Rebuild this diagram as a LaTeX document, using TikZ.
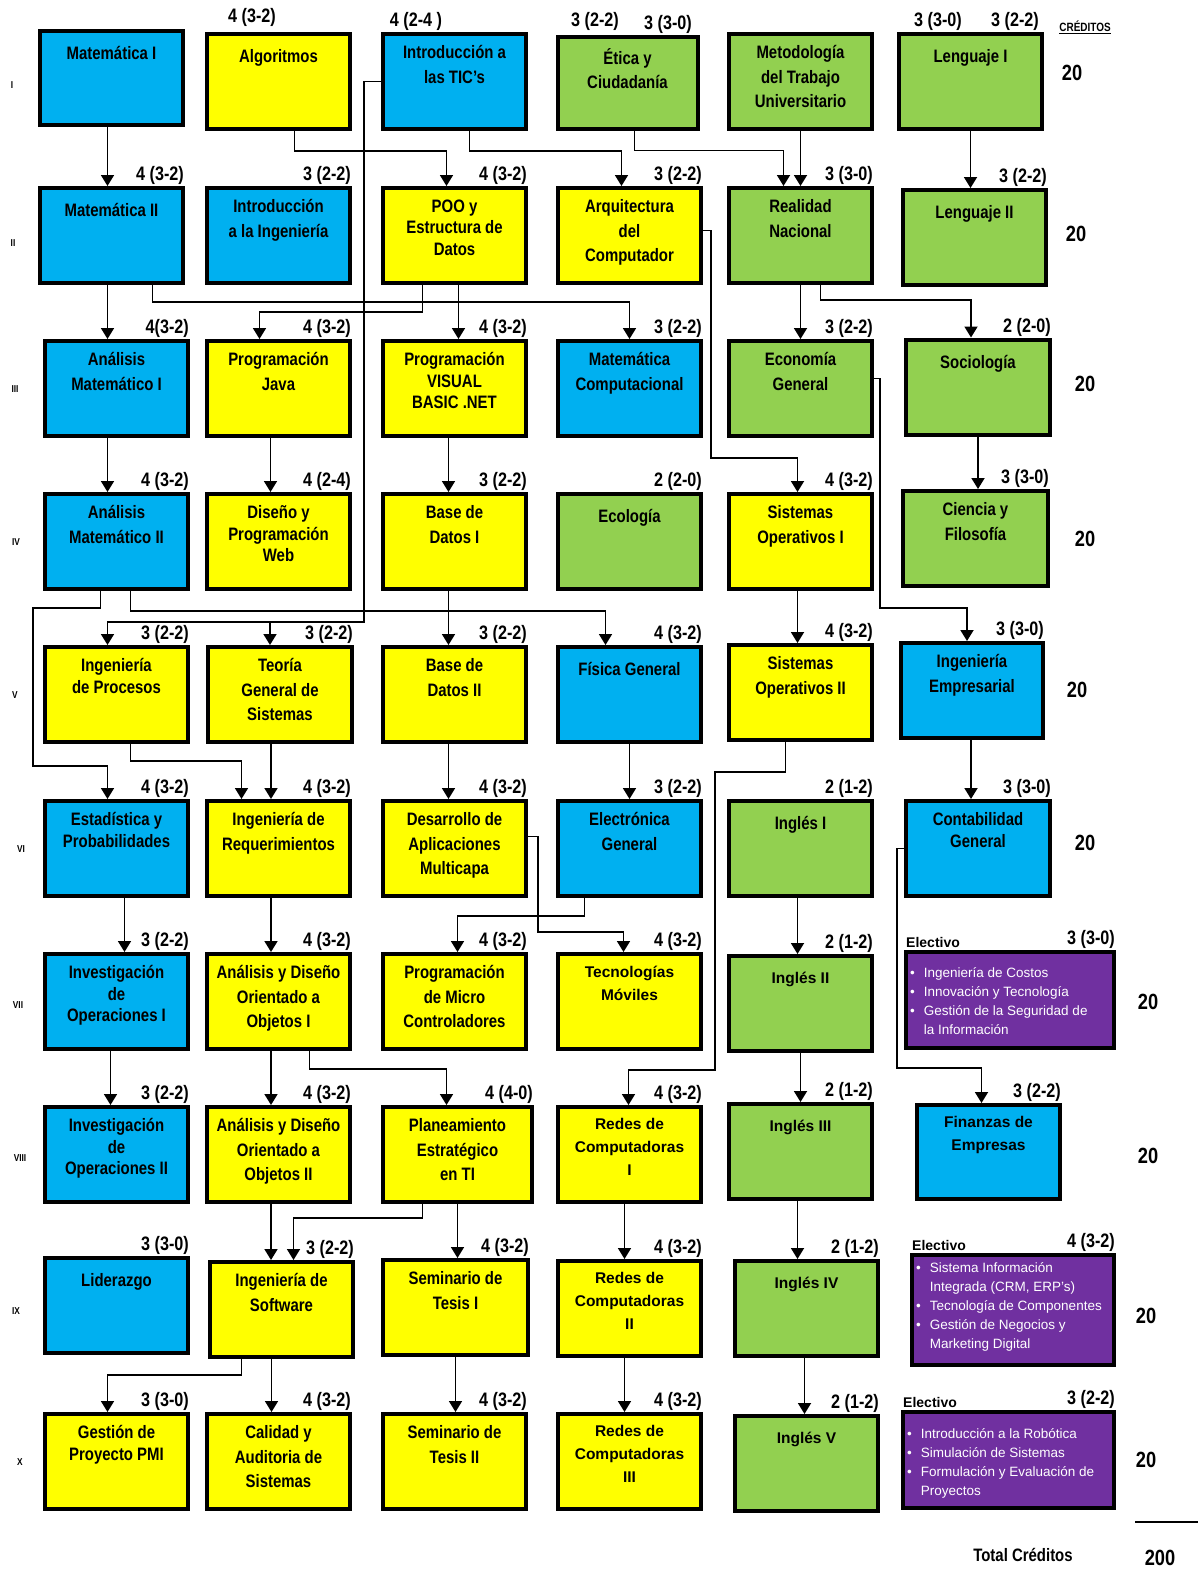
\documentclass[tikz,border=0pt]{standalone}
\usepackage{fontspec}
\setmainfont{Liberation Sans}
\newfontfamily\narrowsans[FakeStretch=0.83]{Liberation Sans}
\usetikzlibrary{arrows.meta}

\definecolor{azul}{HTML}{00B0F0}
\definecolor{amarillo}{HTML}{FFFF00}
\definecolor{verde}{HTML}{92D050}
\definecolor{morado}{HTML}{7030A0}

\tikzset{
	course/.style={draw, line width=4pt, fill=#1, minimum width=143pt, minimum height=95pt, inner sep=0pt},
	subjtext/.style={anchor=north, label distance=-13.5pt, align=center, inner sep=0pt,
		font=\narrowsans\bfseries\fontsize{18}{24.5}\selectfont, execute at begin node=\strut},
	subj/.style={label={[subjtext]90:{#1}}},
	subjt/.style={label={[subjtext, font=\narrowsans\bfseries\fontsize{18}{21.5}\selectfont]90:{#1}}},
	subjw/.style={label={[subjtext, font=\bfseries\fontsize{15.5}{23}\selectfont]90:{#1}}},
	credit/.style={anchor=south east, label distance=0pt, inner sep=1pt, font=\narrowsans\bfseries\fontsize{19.5}{22}\selectfont},
	cr/.style={label={[credit]north east:{#1}}},
	credittop/.style={inner sep=0pt, font=\narrowsans\bfseries\fontsize{19.5}{22}\selectfont},
	electivo/.style={inner sep=2pt, font=\bfseries\fontsize{14}{16}\selectfont},
	bullets/.style={inner sep=0pt, text=white, align=left, font=\fontsize{13.5}{19}\selectfont},
	sem/.style={inner sep=0pt, font=\narrowsans\bfseries\fontsize{10}{12}\selectfont},
	total/.style={inner sep=0pt, font=\narrowsans\bfseries\fontsize{22}{24}\selectfont},
	link/.style={line width=1.8pt, -{Triangle[width=13pt,length=11pt]}}
}

\begin{document}
\begin{tikzpicture}[x=1pt, y=-1pt]
	\useasboundingbox (0,0) rectangle (1198,1590);

	% semestre I
	\node[course=azul, subj={Matemática I}, minimum height=94pt] (mat1) at (111.5,78) {};
	\node[course=amarillo, subj={Algoritmos}] (algo) at (278.5,81.5) {};
	\node[course=azul, subj={Introducción a\\las TIC’s}] (tic) at (454.5,81.5) {};
	\node[course=verde, subj={Ética y\\Ciudadanía}, minimum width=140pt, minimum height=92pt] (etica) at (627.5,82.5) {};
	\node[course=verde, subj={Metodología\\del Trabajo\\Universitario}] (metod) at (800.5,81.5) {};
	\node[course=verde, subj={Lenguaje I}] (leng1) at (970.5,81.5) {};

	\node[credittop] (algocr) at (252,17) {4 (3-2)};
	\node[credittop] (ticcr) at (416,21) {4 (2-4 )};
	\node[credittop] (eticacr) at (595,21) {3 (2-2)};
	\node[credittop] (metodcr) at (668,24) {3 (3-0)};
	\node[credittop] (leng1cra) at (938,21) {3 (3-0)};
	\node[credittop] (leng1crb) at (1015,21) {3 (2-2)};
	\node[inner sep=0pt, font=\narrowsans\bfseries\fontsize{12}{14}\selectfont] (creditos) at (1085,27) {\underline{CRÉDITOS}};

	% semestre II
	\node[course=azul, subj={Matemática II}, cr={4 (3-2)}] (mat2) at (111.5,235.5) {};
	\node[course=azul, subj={Introducción\\a la Ingeniería}, cr={3 (2-2)}] (iing) at (278.5,235.5) {};
	\node[course=amarillo, subjt={POO y\\Estructura de\\Datos}, cr={4 (3-2)}] (poo) at (454.5,235.5) {};
	\node[course=amarillo, subj={Arquitectura\\del\\Computador}, cr={3 (2-2)}] (arq) at (629.5,235.5) {};
	\node[course=verde, subj={Realidad\\Nacional}, cr={3 (3-0)}] (realidad) at (800.5,235.5) {};
	\node[course=verde, subj={Lenguaje II}, cr={3 (2-2)}] (leng2) at (974.5,237.5) {};

	% semestre III
	\node[course=azul, subj={Análisis\\Matemático I}, cr={4(3-2)}] (am1) at (116.5,388.5) {};
	\node[course=amarillo, subj={Programación\\Java}, cr={4 (3-2)}] (java) at (278.5,388.5) {};
	\node[course=amarillo, subjt={Programación\\VISUAL\\BASIC .NET}, cr={4 (3-2)}] (vb) at (454.5,388.5) {};
	\node[course=azul, subj={Matemática\\Computacional}, cr={3 (2-2)}] (matc) at (629.5,388.5) {};
	\node[course=verde, subj={Economía\\General}, cr={3 (2-2)}] (eco) at (800.5,388.5) {};
	\node[course=verde, subj={Sociología}, cr={2 (2-0)}, minimum width=144pt] (soc) at (978,387) {};

	% semestre IV
	\node[course=azul, subj={Análisis\\Matemático II}, cr={4 (3-2)}] (am2) at (116.5,541.5) {};
	\node[course=amarillo, subjt={Diseño y\\Programación\\Web}, cr={4 (2-4)}] (web) at (278.5,541.5) {};
	\node[course=amarillo, subj={Base de\\Datos I}, cr={3 (2-2)}] (bd1) at (454.5,541.5) {};
	\node[course=verde, subj={Ecología}, cr={2 (2-0)}] (ecol) at (629.5,541.5) {};
	\node[course=amarillo, subj={Sistemas\\Operativos I}, cr={4 (3-2)}] (so1) at (800.5,541.5) {};
	\node[course=verde, subj={Ciencia y\\Filosofía}, cr={3 (3-0)}, minimum width=145pt] (cf) at (975.5,538.5) {};

	% semestre V
	\node[course=amarillo, subjt={Ingeniería\\de Procesos}, cr={3 (2-2)}] (iproc) at (116.5,694.5) {};
	\node[course=amarillo, subj={Teoría\\General de\\Sistemas}, cr={3 (2-2)}, minimum width=144pt] (tgs) at (280,694.5) {};
	\node[course=amarillo, subj={Base de\\Datos II}, cr={3 (2-2)}] (bd2) at (454.5,694.5) {};
	\node[course=azul, subj={Física General}, cr={4 (3-2)}] (fis) at (629.5,694.5) {};
	\node[course=amarillo, subj={Sistemas\\Operativos II}, cr={4 (3-2)}] (so2) at (800.5,692.5) {};
	\node[course=azul, subj={Ingeniería\\Empresarial}, cr={3 (3-0)}, minimum width=142pt] (iemp) at (972,690.5) {};

	% semestre VI
	\node[course=azul, subjt={Estadística y\\Probabilidades}, cr={4 (3-2)}] (est) at (116.5,848.5) {};
	\node[course=amarillo, subj={Ingeniería de\\Requerimientos}, cr={4 (3-2)}] (ireq) at (278.5,848.5) {};
	\node[course=amarillo, subj={Desarrollo de\\Aplicaciones\\Multicapa}, cr={4 (3-2)}] (dam) at (454.5,848.5) {};
	\node[course=azul, subj={Electrónica\\General}, cr={3 (2-2)}] (elec) at (629.5,848.5) {};
	\node[course=verde, subj={Inglés I}, cr={2 (1-2)}] (ing1) at (800.5,848.5) {};
	\node[course=azul, subjt={Contabilidad\\General}, cr={3 (3-0)}, minimum width=144pt] (cont) at (978,848.5) {};

	% semestre VII
	\node[course=azul, subjt={Investigación\\de\\Operaciones I}, cr={3 (2-2)}] (io1) at (116.5,1001.5) {};
	\node[course=amarillo, subj={Análisis y Diseño\\Orientado a\\Objetos I}, cr={4 (3-2)}] (adoo1) at (278.5,1001.5) {};
	\node[course=amarillo, subj={Programación\\de Micro\\Controladores}, cr={4 (3-2)}] (micro) at (454.5,1001.5) {};
	\node[course=amarillo, subjw={Tecnologías\\Móviles}, cr={4 (3-2)}] (movil) at (629.5,1001.5) {};
	\node[course=verde, subjw={Inglés II}, cr={2 (1-2)}] (ing2) at (800.5,1003.5) {};
	\node[course=morado, cr={3 (3-0)}, minimum width=208pt, minimum height=96pt] (elec1) at (1010,1000) {};
	\node[electivo, anchor=south west] (elec1h) at (elec1.north west) {Electivo};
	\node[bullets, anchor=north west] (elec1l) at ([xshift=6pt,yshift=-13.7pt]elec1.north west)
		{\begin{tabular}{@{}l@{\hspace{9pt}}l@{}}
			\textbullet & Ingeniería de Costos\\
			\textbullet & Innovación y Tecnología\\
			\textbullet & Gestión de la Seguridad de\\
			& la Información
		\end{tabular}};

	% semestre VIII
	\node[course=azul, subjt={Investigación\\de\\Operaciones II}, cr={3 (2-2)}] (io2) at (116.5,1154.5) {};
	\node[course=amarillo, subj={Análisis y Diseño\\Orientado a\\Objetos II}, cr={4 (3-2)}] (adoo2) at (278.5,1154.5) {};
	\node[course=amarillo, subj={Planeamiento\\Estratégico\\en TI}, cr={4 (4-0)}, minimum width=149pt] (plan) at (457.5,1154.5) {};
	\node[course=amarillo, subjw={Redes de\\Computadoras\\I}, cr={4 (3-2)}] (redes1) at (629.5,1154.5) {};
	\node[course=verde, subjw={Inglés III}, cr={2 (1-2)}] (ing3) at (800.5,1151.5) {};
	\node[course=azul, subjw={Finanzas de\\Empresas}, cr={3 (2-2)}, minimum height=94pt] (fin) at (988.5,1152) {};

	% semestre IX
	\node[course=azul, subj={Liderazgo}, cr={3 (3-0)}] (lid) at (116.5,1305.5) {};
	\node[course=amarillo, subj={Ingeniería de\\Software}, cr={3 (2-2)}] (isw) at (281.5,1309.5) {};
	\node[course=amarillo, subj={Seminario de\\Tesis I}, cr={4 (3-2)}, minimum width=145pt] (st1) at (455.5,1307.5) {};
	\node[course=amarillo, subjw={Redes de\\Computadoras\\II}, cr={4 (3-2)}] (redes2) at (629.5,1308.5) {};
	\node[course=verde, subjw={Inglés IV}, cr={2 (1-2)}] (ing4) at (806.5,1308.5) {};
	\node[course=morado, cr={4 (3-2)}, minimum width=202pt, minimum height=110pt] (elec2) at (1013,1310) {};
	\node[electivo, anchor=south west] (elec2h) at (elec2.north west) {Electivo};
	\node[bullets, anchor=north west] (elec2l) at ([xshift=6pt,yshift=-5.7pt]elec2.north west)
		{\begin{tabular}{@{}l@{\hspace{9pt}}l@{}}
			\textbullet & Sistema Información\\
			& Integrada (CRM, ERP’s)\\
			\textbullet & Tecnología de Componentes\\
			\textbullet & Gestión de Negocios y\\
			& Marketing Digital
		\end{tabular}};

	% semestre X
	\node[course=amarillo, subjt={Gestión de\\Proyecto PMI}, cr={3 (3-0)}] (pmi) at (116.5,1461.5) {};
	\node[course=amarillo, subj={Calidad y\\Auditoria de\\Sistemas}, cr={4 (3-2)}] (cal) at (278.5,1461.5) {};
	\node[course=amarillo, subj={Seminario de\\Tesis II}, cr={4 (3-2)}] (st2) at (454.5,1461.5) {};
	\node[course=amarillo, subjw={Redes de\\Computadoras\\III}, cr={4 (3-2)}] (redes3) at (629.5,1461.5) {};
	\node[course=verde, subjw={Inglés V}, cr={2 (1-2)}] (ing5) at (806.5,1463.5) {};
	\node[course=morado, cr={3 (2-2)}, minimum width=211pt, minimum height=96pt] (elec3) at (1008.5,1460) {};
	\node[electivo, anchor=south west] (elec3h) at (elec3.north west) {Electivo};
	\node[bullets, anchor=north west] (elec3l) at ([xshift=6pt,yshift=-14.7pt]elec3.north west)
		{\begin{tabular}{@{}l@{\hspace{9pt}}l@{}}
			\textbullet & Introducción a la Robótica\\
			\textbullet & Simulación de Sistemas\\
			\textbullet & Formulación y Evaluación de\\
			& Proyectos
		\end{tabular}};

	% semestres y creditos
	\foreach \r/\x/\y [count=\i] in {I/12/85, II/13/243, III/15/389, IV/16/542, V/15/695,
		VI/21/849, VII/18/1005, VIII/20/1158, IX/16/1311, X/20/1462}
		\node[sem] (sem\i) at (\x,\y) {\r};
	\foreach \x/\y [count=\i] in {1072/73, 1076/234, 1085/384, 1085/539, 1077/690,
		1085/843, 1148/1002, 1148/1156, 1146/1316, 1146/1460}
		\node[total] (cred\i) at (\x,\y) {20};
	\coordinate (sumL) at (1135,1522);
	\coordinate (sumR) at (1198,1522);
	\draw[line width=2pt] (sumL) -- (sumR);
	\node[inner sep=0pt, font=\narrowsans\bfseries\fontsize{18}{20}\selectfont] (totaltxt) at (1023,1555) {Total Créditos};
	\node[total] (total) at (1160,1558) {200};

	% bend points
	\coordinate (ticdrop) at (364,622);
	\coordinate (tgsin) at ([xshift=-10pt]tgs.north);
	\coordinate (arqrail) at (711,458);
	\coordinate (ecorail) at (880,608);
	\coordinate (leftrail) at (33,766);
	\coordinate (damrail) at (538,932);
	\coordinate (so2rail) at (715,1070);
	\coordinate (contrail) at (897,1068);

	% I -> II
	\draw[link] ([xshift=-4pt]mat1.south) -- ([xshift=-4pt]mat2.north);
	\draw[link] ([xshift=16pt]algo.south) -- ++(0,20) -| ([xshift=-8pt]poo.north);
	\draw[link] ([xshift=15pt]tic.south) -- ++(0,20) -| ([xshift=-8pt]arq.north);
	\draw[link] ([xshift=7pt]etica.south) -- ++(0,20) -| ([xshift=-17pt]realidad.north);
	\draw[link] (metod.south) -- (realidad.north);
	\draw[link] (leng1.south) -- (leng1.south |- leng2.north);
	\draw[link] (tic.west) -| (ticdrop) -| ([xshift=-9pt]iproc.north);
	\draw[link] (tgsin |- ticdrop) -- (tgsin);

	% II -> III
	\draw[link] ([xshift=-4pt]mat2.south) -- ([xshift=-4pt]mat2.south |- am1.north);
	\draw[link] ([xshift=41pt]mat2.south) -- ++(0,17) -| (matc.north);
	\draw[link] ([xshift=-32pt]poo.south) -- ++(0,27) -| ([xshift=-19pt]java.north);
	\draw[link] ([xshift=4pt]poo.south) -- ([xshift=4pt]vb.north);
	\draw[link] ([yshift=5pt]arq.east) -| (arqrail) -| ([xshift=-3pt]so1.north);
	\draw[link] (realidad.south) -- (eco.north);
	\draw[link] ([xshift=20pt]realidad.south) -- ++(0,15) -| ([xshift=-7pt]soc.north);

	% III -> IV
	\draw[link] ([xshift=-9pt]am1.south) -- ([xshift=-9pt]am2.north);
	\draw[link] ([xshift=-8pt]java.south) -- ([xshift=-8pt]web.north);
	\draw[link] ([xshift=-6pt]vb.south) -- ([xshift=-6pt]bd1.north);
	\draw[link] ([yshift=10pt]eco.east) -| (ecorail) -| ([xshift=-5pt]iemp.north);
	\draw[link] (soc.south) -- (soc.south |- cf.north);

	% IV -> V
	\draw[link] ([xshift=-16pt]am2.south) -- ++(0,17) -| (leftrail) -| ([xshift=-9pt]est.north);
	\draw[link] ([xshift=14pt]am2.south) -- ++(0,20) -| ([xshift=-24pt]fis.north);
	\draw[link] ([xshift=-6pt]bd1.south) -- ([xshift=-6pt]bd2.north);
	\draw[link] ([xshift=-3pt]so1.south) -- ([xshift=-3pt]so2.north);

	% V -> VI
	\draw[link] ([xshift=14pt]iproc.south) -- ++(0,17) -| ([xshift=-37pt]ireq.north);
	\draw[link] ([xshift=-9pt]tgs.south) -- ([xshift=-9pt]tgs.south |- ireq.north);
	\draw[link] ([xshift=-6pt]bd2.south) -- ([xshift=-6pt]dam.north);
	\draw[link] (fis.south) -- (elec.north);
	\draw[link] ([xshift=-15pt]so2.south) -- ++(0,30) -| (so2rail) -| ([xshift=-1pt]redes1.north);
	\draw[link] ([xshift=-1pt]iemp.south) -- ([xshift=-1pt]iemp.south |- cont.north);

	% VI -> VII
	\draw[link] ([xshift=8pt]est.south) -- ([xshift=8pt]io1.north);
	\draw[link] ([xshift=-7.5pt]ireq.south) -- ([xshift=-7.5pt]adoo1.north);
	\draw[link] ([xshift=-45pt]elec.south) -- ++(0,18) -| ([xshift=3pt]micro.north);
	\draw[link] ([yshift=12pt]dam.east) -| (damrail) -| ([xshift=-6pt]movil.north);
	\draw[link] ([xshift=-3pt]ing1.south) -- ([xshift=-3pt]ing1.south |- ing2.north);
	\draw[link] (cont.west) -| (contrail) -| ([xshift=-7pt]fin.north);

	% VII -> VIII
	\draw[link] ([xshift=-6pt]io1.south) -- ([xshift=-6pt]io2.north);
	\draw[link] ([xshift=-7.5pt]adoo1.south) -- ([xshift=-7.5pt]adoo2.north);
	\draw[link] ([xshift=31pt]adoo1.south) -- ++(0,18) -| ([xshift=-11pt]plan.north);
	\draw[link] (ing2.south) -- (ing2.south |- ing3.north);

	% VIII -> IX
	\draw[link] ([xshift=-7.5pt]adoo2.south) -- ([xshift=-7.5pt]adoo2.south |- isw.north);
	\draw[link] ([xshift=-35pt]plan.south) -- ++(0,14) -| ([xshift=12pt]isw.north);
	\draw[link] (plan.south) -- (plan.south |- st1.north);
	\draw[link] ([xshift=-5pt]redes1.south) -- ([xshift=-5pt]redes2.north);
	\draw[link] ([xshift=-3pt]ing3.south) -- ([xshift=-3pt]ing3.south |- ing4.north);

	% IX -> X
	\draw[link] ([xshift=-40pt]isw.south) -- ++(0,16) -| ([xshift=-9pt]pmi.north);
	\draw[link] ([xshift=-10pt]isw.south) -- ([xshift=-10pt]isw.south |- cal.north);
	\draw[link] (st1.south) -- (st1.south |- st2.north);
	\draw[link] ([xshift=-5pt]redes2.south) -- ([xshift=-5pt]redes3.north);
	\draw[link] ([xshift=-2pt]ing4.south) -- ([xshift=-2pt]ing5.north);
\end{tikzpicture}
\end{document}
